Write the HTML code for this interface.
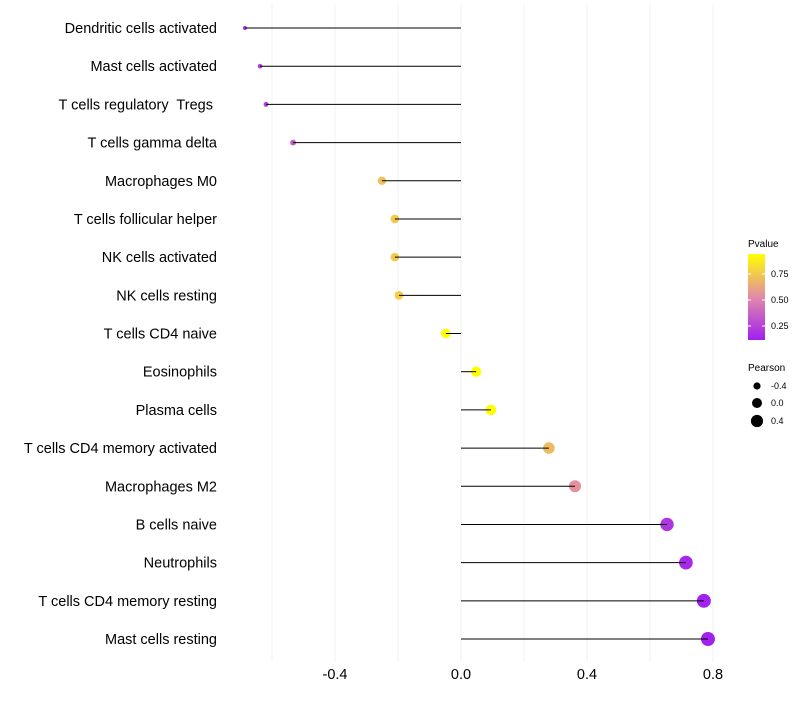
<!DOCTYPE html>
<html><head><meta charset="utf-8"><style>
body{margin:0;background:#fff;font-family:"Liberation Sans",sans-serif;}
text{white-space:pre;}
</style></head><body>
<svg id="chart" width="800" height="700" xmlns="http://www.w3.org/2000/svg" font-family="Liberation Sans, sans-serif">
<defs><linearGradient id="pg" x1="0" y1="1" x2="0" y2="0">
<stop offset="0" stop-color="#a020f0"/><stop offset="0.5" stop-color="#e28aa8"/><stop offset="1" stop-color="#ffff00"/></linearGradient></defs>
<g id="grid"></g><g id="marks"></g><g id="labels"></g>
<g font-size="9" fill="#000">
<text x="748" y="247" font-size="10">Pvalue</text>
<rect x="748" y="254" width="17" height="86" fill="url(#pg)"/>
<g stroke="#fff" stroke-width="1"><line x1="748" x2="751" y1="274" y2="274"/><line x1="762" x2="765" y1="274" y2="274"/><line x1="748" x2="751" y1="300" y2="300"/><line x1="762" x2="765" y1="300" y2="300"/><line x1="748" x2="751" y1="326" y2="326"/><line x1="762" x2="765" y1="326" y2="326"/></g>
<text x="771" y="277">0.75</text><text x="771" y="303">0.50</text><text x="771" y="329">0.25</text>
<text x="748" y="371" font-size="10">Pearson</text>
<circle cx="757" cy="386" r="3.6"/><text x="771" y="389">-0.4</text>
<circle cx="757" cy="403" r="5"/><text x="771" y="406">0.0</text>
<circle cx="757" cy="421" r="6.1"/><text x="771" y="424">0.4</text>
</g>
</svg>
<script>
const categories=["Dendritic cells activated","Mast cells activated","T cells regulatory  Tregs ","T cells gamma delta","Macrophages M0","T cells follicular helper","NK cells activated","NK cells resting","T cells CD4 naive","Eosinophils","Plasma cells","T cells CD4 memory activated","Macrophages M2","B cells naive","Neutrophils","T cells CD4 memory resting","Mast cells resting"];
const pearson=[-0.686,-0.638,-0.619,-0.533,-0.251,-0.21,-0.21,-0.197,-0.048,0.048,0.095,0.279,0.362,0.654,0.714,0.771,0.784];
const pvalue=[0.2,0.25,0.25,0.35,0.72,0.75,0.75,0.77,0.97,0.97,0.95,0.7,0.55,0.2,0.15,0.12,0.12];
const xticks=[-0.4,0.0,0.4,0.8];
const xminor=[-0.6,-0.2,0.2,0.6];
const NS="http://www.w3.org/2000/svg";
const X=v=>461+v*315;
const Y=i=>28+i*(639-28)/16;
const R=v=>Math.sqrt(Math.max(1,25+30.6*v));
function lerp(a,b,t){return a.map((x,i)=>Math.round(x+(b[i]-x)*t));}
function col(p){const lo=0.115,hi=0.94;let t=Math.min(1,Math.max(0,(p-lo)/(hi-lo)));
const a=[160,32,240],m=[226,138,168],b=[255,255,0];const c=t<0.5?lerp(a,m,t*2):lerp(m,b,(t-0.5)*2);return `rgb(${c})`;}
function mk(tag,attrs,parent){const e=document.createElementNS(NS,tag);for(const k in attrs)e.setAttribute(k,attrs[k]);parent.appendChild(e);return e;}
const grid=document.getElementById('grid'),marks=document.getElementById('marks'),labels=document.getElementById('labels');
xticks.concat(xminor).forEach(v=>{const l=mk('line',{x1:X(v),x2:X(v),y1:5,y2:662,stroke:'#f2f2f2','stroke-width':1},grid);

});
categories.forEach((c,i)=>{
const t=mk('text',{x:217,y:Y(i)+5,'text-anchor':'end','font-size':14.5,fill:'#000'},labels);t.textContent=c;


const d=mk('circle',{cx:X(pearson[i]),cy:Y(i),r:R(pearson[i]),fill:col(pvalue[i])},marks);


const s2=mk('line',{x1:X(0),x2:X(pearson[i]),y1:Y(i),y2:Y(i),stroke:'#000','stroke-width':1},marks);

});
xticks.forEach(v=>{const t=mk('text',{x:X(v),y:679,'text-anchor':'middle','font-size':14.5,fill:'#000'},labels);t.textContent=v.toFixed(1);

});
</script>
</body></html>
